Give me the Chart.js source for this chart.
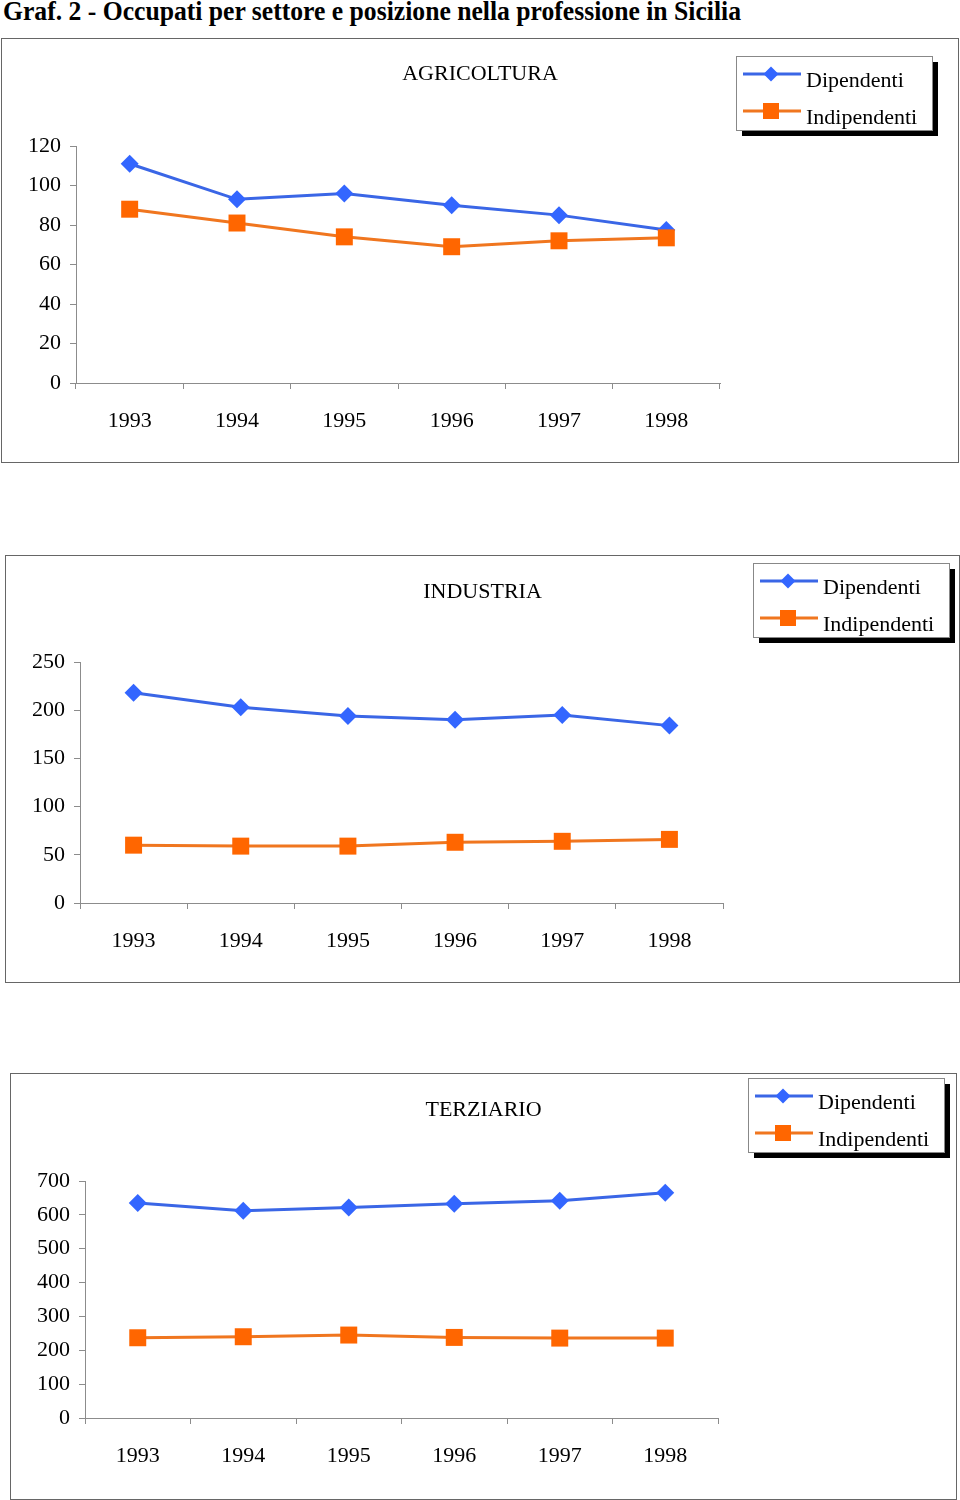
<!DOCTYPE html>
<html>
<head>
<meta charset="utf-8">
<script src="https://cdn.jsdelivr.net/npm/chart.js@4.4.0/dist/chart.umd.min.js"></script>
<style>
  body { margin: 0; background: #fff; width: 960px; height: 1500px; position: relative; overflow: hidden; font-family: "Liberation Serif", serif; }
  #mainTitle { position: absolute; left: 3px; top: -2px; font-weight: bold; font-size: 27px; line-height: 1; white-space: nowrap; transform-origin: 0 0; color: #000; }
  .panel { position: absolute; border: 1px solid #666; background: #fff; }
  .panel canvas { display: block; }
</style>
</head>
<body>
<div id="mainTitle">Graf. 2 - Occupati per settore e posizione nella professione in Sicilia</div>

<div class="panel" style="left:1px;top:38px;width:956px;height:423px"><canvas id="agri" width="956" height="423"></canvas></div>
<div class="panel" style="left:5px;top:555px;width:953px;height:426px"><canvas id="indu" width="953" height="426"></canvas></div>
<div class="panel" style="left:10px;top:1073px;width:945px;height:425px"><canvas id="terz" width="945" height="425"></canvas></div>

<script>
// data (migliaia)
const years = ['1993', '1994', '1995', '1996', '1997', '1998'];

const agriDip = [111, 93, 96, 90, 85, 77.5];
const agriInd = [88, 81, 74, 69, 72, 73.5];

const induDip = [218, 203, 194, 190, 195, 184];
const induInd = [60, 59, 59, 63, 64, 66];

const terzDip = [635, 612, 622, 633, 642, 665];
const terzInd = [237, 240, 245, 238, 236, 236];

const agriTicks = [0, 20, 40, 60, 80, 100, 120];
const induTicks = [0, 50, 100, 150, 200, 250];
const terzTicks = [0, 100, 200, 300, 400, 500, 600, 700];

const BLUE_LINE = '#3a66e6', BLUE_MARK = '#3366ff';
const ORANGE_LINE = '#f0761f', ORANGE_MARK = '#ff6600';
const FONT = { family: '"Liberation Serif", serif', size: 22 };

// fit main heading to its width in the reference
(function () {
  const el = document.getElementById('mainTitle');
  const w = el.getBoundingClientRect().width;
  el.style.transform = 'scaleX(' + (738 / w) + ')';
})();

// title + boxed legend with shadow, drawn from the datasets
const panelDecor = {
  id: 'panelDecor',
  afterDraw(chart, args, opts) {
    const ctx = chart.ctx;
    ctx.save();
    ctx.font = FONT.size + 'px ' + FONT.family;
    ctx.fillStyle = '#000';
    ctx.textAlign = 'center';
    ctx.textBaseline = 'alphabetic';
    ctx.fillText(opts.text, chart.width / 2, opts.titleY);

    const bx = opts.legendX, by = opts.legendY, bw = 196, bh = 74;
    ctx.fillStyle = '#000';
    ctx.fillRect(bx + 6, by + 6, bw, bh);
    ctx.fillStyle = '#fff';
    ctx.fillRect(bx, by, bw, bh);
    ctx.strokeStyle = '#888';
    ctx.lineWidth = 1;
    ctx.strokeRect(bx + 0.5, by + 0.5, bw, bh);

    chart.data.datasets.forEach(function (ds, i) {
      const y = by + 18 + i * 37;
      ctx.strokeStyle = ds.borderColor;
      ctx.lineWidth = 3;
      ctx.beginPath();
      ctx.moveTo(bx + 7, y);
      ctx.lineTo(bx + 65, y);
      ctx.stroke();
      ctx.fillStyle = ds.pointBackgroundColor;
      ctx.beginPath();
      const mx = bx + 35;
      if (ds.pointStyle === 'rectRot') {
        ctx.moveTo(mx - 7.5, y); ctx.lineTo(mx, y - 7.5); ctx.lineTo(mx + 7.5, y); ctx.lineTo(mx, y + 7.5);
        ctx.closePath();
      } else {
        ctx.rect(mx - 8, y - 8, 16, 16);
      }
      ctx.fill();
      ctx.fillStyle = '#000';
      ctx.textAlign = 'left';
      ctx.fillText(ds.label, bx + 70, y + 12.5);
    });
    ctx.restore();
  }
};

function makeChart(id, title, dip, ind, ticks, geo) {
  const axisColor = '#8c8c8c';
  return new Chart(document.getElementById(id), {
    type: 'line',
    data: {
      labels: years,
      datasets: [
        {
          label: 'Dipendenti', data: dip, order: 1,
          borderColor: BLUE_LINE, borderWidth: 3,
          pointStyle: 'rectRot', pointRadius: 9, pointBorderWidth: 0,
          pointBackgroundColor: BLUE_MARK, tension: 0
        },
        {
          label: 'Indipendenti', data: ind, order: 0,
          borderColor: ORANGE_LINE, borderWidth: 3,
          pointStyle: 'rect', pointRadius: 12, pointBorderWidth: 0,
          pointBackgroundColor: ORANGE_MARK, tension: 0
        }
      ]
    },
    options: {
      responsive: false,
      animation: false,
      devicePixelRatio: 1,
      layout: { padding: { left: 0, top: geo.top, right: geo.right, bottom: 0 } },
      scales: {
        x: {
          type: 'category',
          offset: true,
          grid: { offset: true, drawOnChartArea: false, drawTicks: true, tickLength: 6, color: axisColor },
          border: { display: true, color: axisColor, width: 1 },
          ticks: { font: FONT, color: '#000', padding: 19, maxRotation: 0, autoSkip: false },
          afterFit: function (s) { s.height = geo.xHeight; }
        },
        y: {
          min: ticks[0],
          max: ticks[ticks.length - 1],
          afterBuildTicks: function (s) { s.ticks = ticks.map(function (v) { return { value: v }; }); },
          grid: { drawOnChartArea: false, drawTicks: true, tickLength: 6, color: axisColor },
          border: { display: true, color: axisColor, width: 1 },
          ticks: { font: FONT, color: '#000', padding: 9 },
          afterFit: function (s) { s.width = geo.yWidth; }
        }
      },
      plugins: {
        legend: { display: false },
        tooltip: { enabled: false },
        panelDecor: { text: title, titleY: geo.titleY, legendX: geo.legendX, legendY: geo.legendY }
      }
    },
    plugins: [panelDecor]
  });
}

makeChart('agri', 'AGRICOLTURA', agriDip, agriInd, agriTicks,
  { top: 107, right: 238, xHeight: 79, yWidth: 74, titleY: 40.5, legendX: 734, legendY: 17 });
makeChart('indu', 'INDUSTRIA', induDip, induInd, induTicks,
  { top: 106, right: 236, xHeight: 79, yWidth: 74, titleY: 41.5, legendX: 747, legendY: 7 });
makeChart('terz', 'TERZIARIO', terzDip, terzInd, terzTicks,
  { top: 107, right: 238, xHeight: 81, yWidth: 74, titleY: 41.5, legendX: 737, legendY: 4 });
</script>
</body>
</html>
